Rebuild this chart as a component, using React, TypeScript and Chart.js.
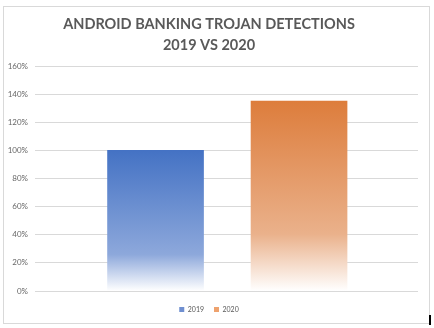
import React, { useEffect, useRef } from "react";
import { Chart, registerables } from "chart.js";

Chart.register(...registerables);

const titleLines = ["ANDROID BANKING TROJAN DETECTIONS", "2019 VS 2020"];
const seriesNames = ["2019", "2020"];
const seriesX = [0, 1];
const seriesValues = [100, 135];
const yTickMax = 160;
const yTickStep = 20;

const topColors = ["#4472C4", "#DD7D3C"];
const midColors = ["#8DA8DB", "#EAB18B"];
const legendColors = ["#6F8FD0", "#EEA26E"];

export default function App() {
  const ref = useRef<HTMLCanvasElement | null>(null);

  useEffect(() => {
    if (!ref.current) return;
    const makeBg = (i: number) => (ctx: any) => {
      if (ctx.type !== "data") return legendColors[i];
      const chart = ctx.chart;
      const y = chart.scales?.y;
      if (!y || ctx.raw == null) return topColors[i];
      const v = typeof ctx.raw === "object" ? ctx.raw.y : ctx.raw;
      const top = y.getPixelForValue(v);
      const bottom = y.getPixelForValue(0);
      if (!isFinite(top) || !isFinite(bottom) || top === bottom) return topColors[i];
      const g = chart.ctx.createLinearGradient(0, top, 0, bottom);
      g.addColorStop(0, topColors[i]);
      g.addColorStop(i === 0 ? 0.74 : 0.7, midColors[i]);
      g.addColorStop(1, "#FFFFFF");
      return g;
    };
    const chart = new Chart(ref.current, {
      type: "bar",
      data: {
        datasets: seriesNames.map((name, i) => ({
          label: name,
          data: [{ x: seriesX[i], y: seriesValues[i] }],
          backgroundColor: makeBg(i),
          borderWidth: 0,
          grouped: false,
          categoryPercentage: 1,
          barPercentage: 1,
          maxBarThickness: 96,
        })),
      },
      options: {
        animation: false,
        responsive: false,
        layout: { padding: { left: 0, right: 16, top: 0, bottom: 5 } },
        scales: {
          x: {
            type: "linear",
            display: false,
            offset: false,
            min: -0.84,
            max: 1.829,
            afterBuildTicks: (s: any) => {
              s.ticks = seriesX.map((v) => ({ value: v }));
            },
          },
          y: {
            min: 0,
            max: yTickMax,
            afterFit: (s: any) => {
              s.width = 35;
            },
            border: { display: false },
            grid: { color: "#D9D9D9", drawTicks: false, lineWidth: 1 },
            ticks: {
              stepSize: yTickStep,
              padding: 7,
              color: "#666666",
              font: { family: "Lato, 'Liberation Sans', sans-serif", size: 8 },
              callback: (v: any) => v + "%",
            },
          },
        },
        plugins: {
          title: {
            display: true,
            text: titleLines,
            color: "#595959",
            font: { family: "Lato, 'Liberation Sans', sans-serif", size: 14.5, weight: "bold", lineHeight: 20.5 / 14.5 },
            padding: { top: 14.25, bottom: 10.75 },
          },
          legend: {
            display: true,
            position: "bottom",
            title: { display: true, text: "", font: { size: 1, lineHeight: 1 }, padding: { top: 4, bottom: 0 } },
            labels: {
              boxWidth: 5,
              boxHeight: 5,
              padding: 10,
              color: "#595959",
              font: { family: "Lato, 'Liberation Sans', sans-serif", size: 7 },
              generateLabels: (c: any) =>
                c.data.datasets.map((ds: any, i: number) => ({
                  text: ds.label,
                  fillStyle: legendColors[i],
                  strokeStyle: legendColors[i],
                  lineWidth: 0,
                  fontColor: "#595959",
                  hidden: false,
                  datasetIndex: i,
                })),
            },
          },
          tooltip: { enabled: false },
        },
      },
    } as any);
    chart.update();
    return () => chart.destroy();
  }, []);

  return (
    <div style={{ position: "fixed", left: 0, top: 0, width: 434, height: 328, background: "#FFFFFF" }}>
      <canvas ref={ref} width={434} height={328} style={{ position: "absolute", left: 0, top: 0, width: 434, height: 328 }} />
      <div
        style={{
          position: "absolute",
          left: 3,
          top: 6,
          width: 425,
          height: 316,
          border: "1px solid #D9D9D9",
          pointerEvents: "none",
        }}
      />
      <div style={{ position: "absolute", left: 429, top: 315, width: 2, height: 10, background: "#000000" }} />
    </div>
  );
}
